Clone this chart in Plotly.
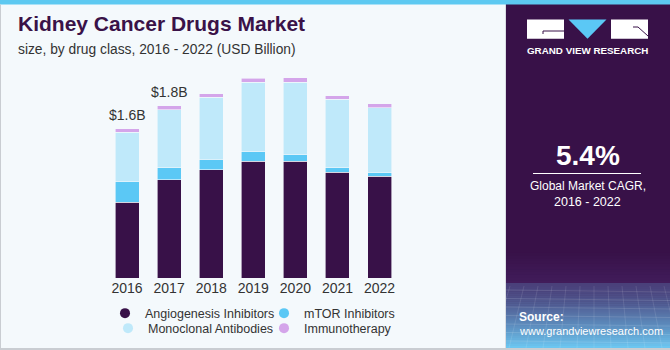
import plotly.graph_objects as go

# ---------------- data ----------------
years = ["2016", "2017", "2018", "2019", "2020", "2021", "2022"]
angiogenesis = [0.81, 1.05, 1.16, 1.25, 1.25, 1.13, 1.09]
mtor = [0.22, 0.13, 0.11, 0.10, 0.07, 0.05, 0.04]
monoclonal = [0.53, 0.62, 0.66, 0.74, 0.77, 0.73, 0.69]
immunotherapy = [0.035, 0.04, 0.04, 0.045, 0.047, 0.04, 0.04]
label_years = ["2016", "2017"]
label_texts = ["$1.6B", "$1.8B"]

series_names = ["Angiogenesis Inhibitors", "mTOR Inhibitors",
                "Monoclonal Antibodies", "Immunotherapy"]
series_values = [angiogenesis, mtor, monoclonal, immunotherapy]
colors = ["#381148", "#5BC8F5", "#BFE9FA", "#D4A5EA"]
legend_rows = ["legend", "legend", "legend2", "legend2"]

W, H = 670, 350
ML, MR = 100, 170
PW = W - ML - MR


def to_px(x):
    return (x - ML) / PW


def to_py(y):
    return 1 - y / H


BG = "#F4F9FC"
PANEL = "#381148"
TXT = "#333333"
FONT = "Liberation Sans, Arial"

xpos = list(range(len(years)))

fig = go.Figure()

for name, vals, col in zip(series_names, series_values, colors):
    fig.add_trace(go.Bar(
        x=xpos, y=vals, name=name, marker_color=col,
        marker_line_width=0.6, marker_line_color=BG,
        showlegend=False, hoverinfo="skip"))

# legend circle markers, drawn on a hidden auxiliary axis (off-range)
for name, col, lg in zip(series_names, colors, legend_rows):
    fig.add_trace(go.Scatter(
        x=[0], y=[0], mode="markers", name=name, legend=lg,
        marker=dict(color=col, size=10, symbol="circle"),
        showlegend=True, xaxis="x2", yaxis="y2", hoverinfo="skip",
        cliponaxis=True))

totals = [a + b + c + d for a, b, c, d in zip(*series_values)]

annotations = []
for yr, txt in zip(label_years, label_texts):
    i = years.index(yr)
    annotations.append(dict(
        x=xpos[i], y=totals[i], xref="x", yref="y", text=txt, showarrow=False,
        yanchor="bottom", yshift=4,
        font=dict(size=14, color=TXT, family=FONT)))

# title / subtitle
annotations.append(dict(
    x=to_px(16), y=to_py(37), xref="paper", yref="paper", xanchor="left", yanchor="bottom",
    text="<b>Kidney Cancer Drugs Market</b>", showarrow=False,
    font=dict(size=21, color="#3A1248", family=FONT)))
annotations.append(dict(
    x=to_px(16), y=to_py(49), xref="paper", yref="paper", xanchor="left", yanchor="middle",
    text="size, by drug class, 2016 - 2022 (USD Billion)", showarrow=False,
    font=dict(size=13.8, color=TXT, family=FONT)))

# right panel texts
annotations.append(dict(
    x=to_px(587.5), y=to_py(50.5), xref="paper", yref="paper", xanchor="center", yanchor="middle",
    text="<b>GRAND VIEW RESEARCH</b>", showarrow=False,
    font=dict(size=9.8, color="white", family=FONT)))
annotations.append(dict(
    x=to_px(587.5), y=to_py(155), xref="paper", yref="paper", xanchor="center", yanchor="middle",
    text="<b>5.4%</b>", showarrow=False,
    font=dict(size=28, color="white", family=FONT)))
annotations.append(dict(
    x=to_px(587.5), y=to_py(186), xref="paper", yref="paper", xanchor="center", yanchor="middle",
    text="Global Market CAGR,", showarrow=False,
    font=dict(size=12, color="white", family=FONT)))
annotations.append(dict(
    x=to_px(587.5), y=to_py(201.5), xref="paper", yref="paper", xanchor="center", yanchor="middle",
    text="2016 - 2022", showarrow=False,
    font=dict(size=12.5, color="white", family=FONT)))
annotations.append(dict(
    x=to_px(517), y=to_py(316.5), xref="paper", yref="paper", xanchor="left", yanchor="middle",
    text="<b>Source:</b>", showarrow=False,
    font=dict(size=12, color="white", family=FONT)))
annotations.append(dict(
    x=to_px(517), y=to_py(330.5), xref="paper", yref="paper", xanchor="left", yanchor="middle",
    text="www.grandviewresearch.com", showarrow=False,
    font=dict(size=11, color="white", family=FONT)))

shapes = []


def rect(x0, y0, x1, y1, color):
    shapes.append(dict(type="rect", xref="paper", yref="paper",
                       x0=to_px(x0), x1=to_px(x1), y0=to_py(y1), y1=to_py(y0),
                       fillcolor=color, line=dict(width=0), layer="above"))


# panel
rect(505, 0, 506, 350, "#D9DDE3")
rect(506, 0, 670, 350, PANEL)
steps = 12
for k in range(steps):
    y0 = 250 + k * (33 / steps)
    t = k / steps
    c = (int(56 + t * 10), int(17 + t * 12), int(72 + t * 20))
    rect(506, y0, 670, y0 + 33 / steps + 0.5, "rgb(%d,%d,%d)" % c)
steps = 32
ys = 283.0
ye = 348.0
c0 = (74, 64, 122)
c1 = (108, 198, 240)
for k in range(steps):
    y0 = ys + k * (ye - ys) / steps
    t = k / (steps - 1)
    t = t ** 1.3
    c = tuple(int(c0[j] + (c1[j] - c0[j]) * t) for j in range(3))
    rect(506, y0, 670, y0 + (ye - ys) / steps + 0.5, "rgb(%d,%d,%d)" % c)

# faint grid texture in panel bottom
for k in range(7):
    yy = 290 + k * 8.5
    shapes.append(dict(type="line", xref="paper", yref="paper",
                       x0=to_px(506), x1=to_px(670), y0=to_py(yy), y1=to_py(yy + 2),
                       line=dict(color="rgba(255,255,255,0.12)", width=1), layer="above"))
for k in range(12):
    xx = 510 + k * 14
    shapes.append(dict(type="line", xref="paper", yref="paper",
                       x0=to_px(xx), x1=to_px(xx + (k - 6) * 3), y0=to_py(286), y1=to_py(348),
                       line=dict(color="rgba(255,255,255,0.10)", width=1), layer="above"))

# logo
rect(527, 19.5, 564, 38.7, "white")
rect(611, 19.5, 648, 38.7, "white")
shapes.append(dict(type="path", xref="paper", yref="paper",
                   path="M %f %f L %f %f L %f %f Z" % (to_px(568.5), to_py(19.5), to_px(606.5), to_py(19.5), to_px(587.5), to_py(38.7)),
                   fillcolor="#5BC8F5", line=dict(width=0), layer="above"))
for (xa, ya, xb, yb) in [(543, 31, 564, 31), (543, 31, 543, 34), (633, 27, 638, 27), (638, 27, 648, 36)]:
    shapes.append(dict(type="line", xref="paper", yref="paper",
                       x0=to_px(xa), x1=to_px(xb), y0=to_py(ya), y1=to_py(yb),
                       line=dict(color=PANEL, width=1), layer="above"))
# CAGR underline
shapes.append(dict(type="line", xref="paper", yref="paper",
                   x0=to_px(533), x1=to_px(641), y0=to_py(173.5), y1=to_py(173.5),
                   line=dict(color="white", width=1), layer="above"))

# top strip & borders
rect(0, 0, 670, 4.5, "#5DC9F1")
rect(0, 4.5, 1, 350, "#C9CDD2")
rect(0, 348, 670, 350, "#C9CDD2")

legend_common = dict(orientation="h", xanchor="left", yanchor="top",
                     entrywidthmode="pixels", bgcolor="rgba(0,0,0,0)",
                     traceorder="normal",
                     font=dict(size=12.5, color=TXT, family=FONT),
                     itemclick=False, itemdoubleclick=False, tracegroupgap=0)

fig.update_layout(
    width=W, height=H,
    margin=dict(l=ML, r=MR, t=0, b=0, pad=0),
    paper_bgcolor=BG, plot_bgcolor="rgba(0,0,0,0)",
    barmode="stack", bargap=0.43,
    xaxis=dict(domain=[to_px(106), to_px(400.6)], range=[-0.5, len(years) - 0.5],
               tickmode="array", tickvals=xpos, ticktext=years,
               showgrid=False, showline=False, zeroline=False, ticks="",
               tickfont=dict(size=14, color=TXT, family=FONT),
               fixedrange=True),
    yaxis=dict(domain=[to_py(278.3), to_py(70)], range=[0, 2.222], visible=False,
               fixedrange=True),
    xaxis2=dict(domain=[0, 0.01], range=[10, 11], visible=False, anchor="y2",
                fixedrange=True),
    yaxis2=dict(domain=[0.99, 1], range=[10, 11], visible=False, anchor="x2",
                fixedrange=True),
    legend=dict(x=to_px(105), y=to_py(298.5), entrywidth=114, **legend_common),
    legend2=dict(x=to_px(108), y=to_py(313.5), entrywidth=111, **legend_common),
    annotations=annotations,
    shapes=shapes,
    showlegend=True,
)

fig.write_html("out.html")
